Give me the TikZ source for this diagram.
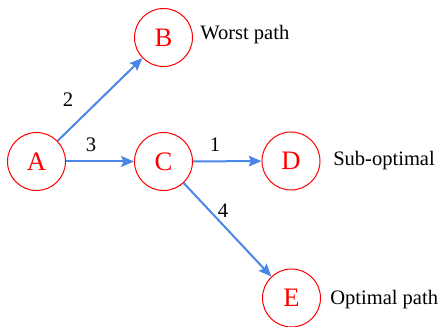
\documentclass[tikz,border=0pt]{standalone}
\usepackage{fontspec}
\setmainfont{Liberation Serif}
\newfontfamily\diagfont{Liberation Serif}
\usetikzlibrary{arrows.meta}
\definecolor{edgeblue}{RGB}{74,134,232}

\begin{document}
\begin{tikzpicture}[x=0.75pt,y=0.75pt,yscale=-1,xscale=1,
  state/.style={circle,draw=red,text=red,line width=0.75,minimum size=43.5pt,inner sep=0pt,font=\diagfont\fontsize{20}{22}\selectfont},
  link/.style={draw=edgeblue,line width=1.5,-{Stealth[length=9.5pt,width=8pt,inset=1.5pt]}},
  weight/.style={inner sep=0.75pt,font=\diagfont\fontsize{15.5}{18}\selectfont},
  note/.style={anchor=west,inner sep=0.75pt,font=\diagfont\fontsize{15.4}{18}\selectfont}]
\useasboundingbox (0,0) rectangle (443,327);

%States
\node[state] (A) at (36.5,161.5) {A};
\node[state] (B) at (163.5,37.5) {B};
\node[state] (C) at (163.5,161.5) {C};
\node[state] (D) at (291,161) {D};
\node[state] (E) at (291.5,298) {E};

%Straight Lines
\draw[link] (A) -- (B);
\draw[link] (A) -- (C);
\draw[link] (C) -- (D);
\draw[link] (C) -- (E);

% Text Node
\node[weight] (w2) at (68,100) {2};
\node[weight] (w3) at (91,145) {3};
\node[weight] (w1) at (215,145) {1};
\node[weight] (w4) at (223,211) {4};
% Text Node
\node[note] (nB) at (199,35) {Worst path};
\node[note] (nD) at (332,161) {Sub-optimal};
\node[note] (nE) at (329,300) {Optimal path};

\end{tikzpicture}
\end{document}
